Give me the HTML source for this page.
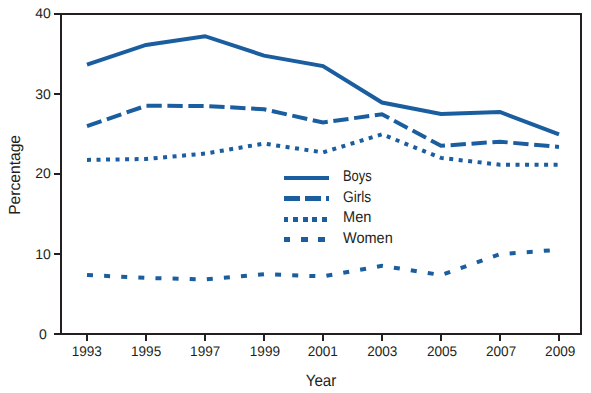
<!DOCTYPE html>
<html><head><meta charset="utf-8"><style>
html,body{margin:0;padding:0;background:#fff;}
svg{display:block;}
text{font-family:"Liberation Sans",sans-serif;fill:#231f20;text-rendering:geometricPrecision;}
.t{font-size:14px;}
.ax{font-size:16px;}
.yr{font-size:16.5px;}
.lg{font-size:15.55px;}
</style></head><body>
<svg width="591" height="393" viewBox="0 0 591 393">
<rect x="61" y="14" width="520" height="320" fill="none" stroke="#231f20" stroke-width="2"/>
<rect x="54" y="333" width="7" height="2" fill="#231f20"/>
<text x="43" y="339" text-anchor="middle" class="t">0</text>
<rect x="54" y="253" width="7" height="2" fill="#231f20"/>
<text x="43" y="259" text-anchor="middle" class="t">10</text>
<rect x="54" y="173" width="7" height="2" fill="#231f20"/>
<text x="43" y="178" text-anchor="middle" class="t">20</text>
<rect x="54" y="93" width="7" height="2" fill="#231f20"/>
<text x="43" y="99" text-anchor="middle" class="t">30</text>
<rect x="54" y="13" width="7" height="2" fill="#231f20"/>
<text x="43" y="18" text-anchor="middle" class="t">40</text>
<rect x="86" y="334" width="2" height="7" fill="#231f20"/>
<text transform="translate(86.80,356) scale(0.97,1)" text-anchor="middle" class="t">1993</text>
<rect x="145" y="334" width="2" height="7" fill="#231f20"/>
<text transform="translate(146.10,356) scale(0.97,1)" text-anchor="middle" class="t">1995</text>
<rect x="204" y="334" width="2" height="7" fill="#231f20"/>
<text transform="translate(205.20,356) scale(0.97,1)" text-anchor="middle" class="t">1997</text>
<rect x="263" y="334" width="2" height="7" fill="#231f20"/>
<text transform="translate(264.90,356) scale(0.97,1)" text-anchor="middle" class="t">1999</text>
<rect x="322" y="334" width="2" height="7" fill="#231f20"/>
<text transform="translate(322.80,356) scale(0.97,1)" text-anchor="middle" class="t">2001</text>
<rect x="381" y="334" width="2" height="7" fill="#231f20"/>
<text transform="translate(382.30,356) scale(0.97,1)" text-anchor="middle" class="t">2003</text>
<rect x="440" y="334" width="2" height="7" fill="#231f20"/>
<text transform="translate(442.00,356) scale(0.97,1)" text-anchor="middle" class="t">2005</text>
<rect x="499" y="334" width="2" height="7" fill="#231f20"/>
<text transform="translate(501.10,356) scale(0.97,1)" text-anchor="middle" class="t">2007</text>
<rect x="558" y="334" width="2" height="7" fill="#231f20"/>
<text transform="translate(560.20,356) scale(0.97,1)" text-anchor="middle" class="t">2009</text>
<text transform="translate(321,386) scale(0.92,1)" text-anchor="middle" class="yr">Year</text>
<text transform="translate(20,174.9) rotate(-90) scale(0.975,1)" text-anchor="middle" class="ax">Percentage</text>
<polyline points="87,64.7 146,44.9 205,36.2 264,55.6 323,66.1 382,102.5 441,114.0 500,112.0 559,134.4" fill="none" stroke="#1b5e9f" stroke-width="4"/>
<polyline points="87,126.1 146,105.8 205,106.0 264,109.2 323,122.5 382,114.2 441,145.8 500,141.7 559,146.9" fill="none" stroke="#1b5e9f" stroke-width="4" stroke-dasharray="15.3 5.65"/>
<polyline points="87,159.9 146,159.0 205,153.6 264,143.6 323,152.4 382,134.3 441,157.9 500,164.7 559,164.7" fill="none" stroke="#1b5e9f" stroke-width="4" stroke-dasharray="4 5.52"/>
<polyline points="87,275.0 146,277.9 205,279.4 264,274.2 323,276.4 382,265.8 441,275.0 500,254.2 559,249.7" fill="none" stroke="#1b5e9f" stroke-width="4" stroke-dasharray="6 11.13"/>
<rect x="284" y="176" width="45" height="4" fill="#1b5e9f"/>
<text transform="translate(343,181) scale(0.83,1)" class="lg">Boys</text>
<rect x="284" y="196" width="16" height="5" fill="#1b5e9f"/>
<rect x="305" y="196" width="16" height="5" fill="#1b5e9f"/>
<rect x="326" y="196" width="3" height="5" fill="#1b5e9f"/>
<text transform="translate(343,201.6) scale(0.884,1)" class="lg">Girls</text>
<rect x="284" y="217" width="4" height="5" fill="#1b5e9f"/>
<rect x="293" y="217" width="5" height="5" fill="#1b5e9f"/>
<rect x="303" y="217" width="5" height="5" fill="#1b5e9f"/>
<rect x="312" y="217" width="5" height="5" fill="#1b5e9f"/>
<rect x="322" y="217" width="5" height="5" fill="#1b5e9f"/>
<text transform="translate(343,221.8) scale(0.938,1)" class="lg">Men</text>
<rect x="284" y="237" width="6" height="5" fill="#1b5e9f"/>
<rect x="301" y="237" width="7" height="5" fill="#1b5e9f"/>
<rect x="318" y="237" width="7" height="5" fill="#1b5e9f"/>
<text transform="translate(343,242.8) scale(0.933,1)" class="lg">Women</text>
</svg>
</body></html>
